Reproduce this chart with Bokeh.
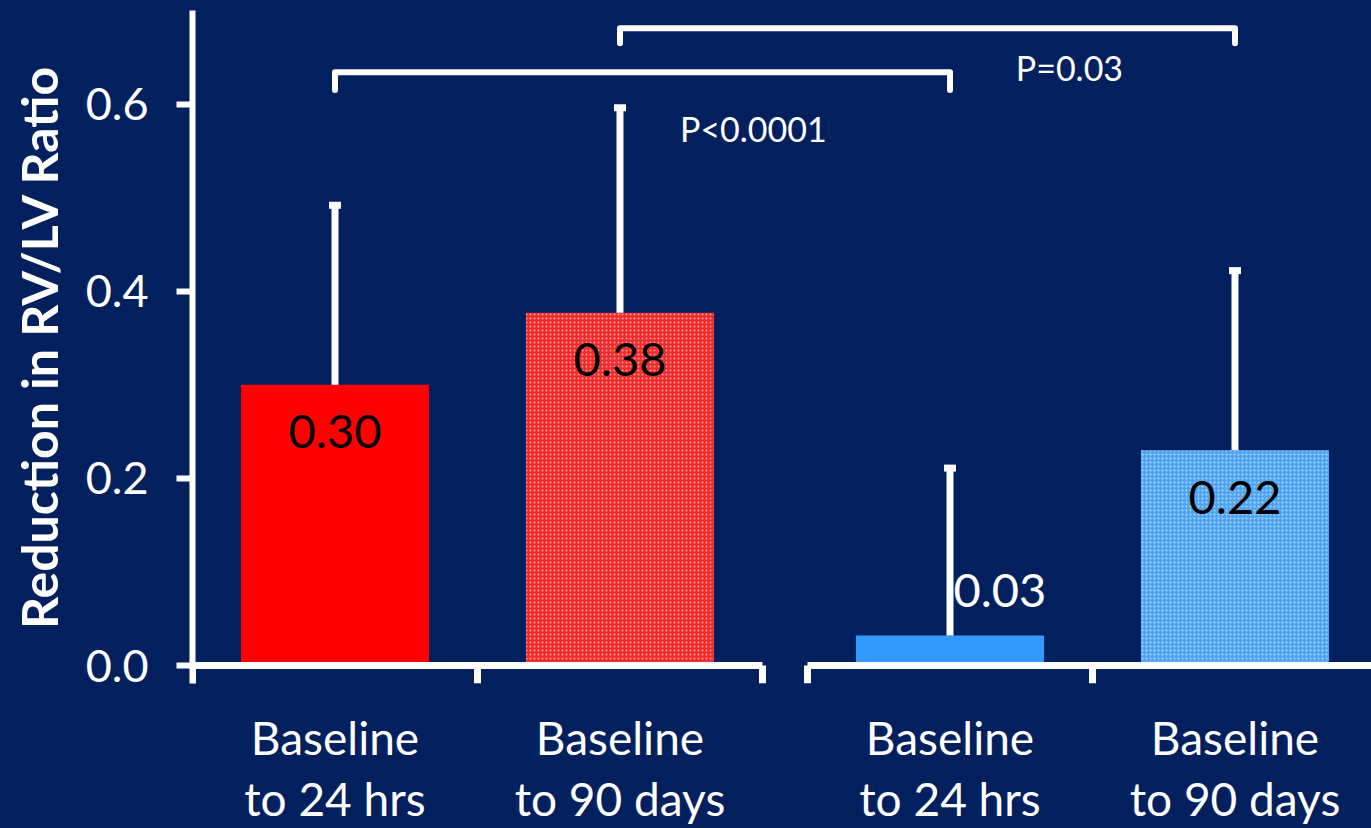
from bokeh.plotting import figure
from bokeh.models import Range1d, FixedTicker, LinearAxis
from bokeh.core.properties import value
from bokeh.embed import file_html
from bokeh.resources import INLINE

# ---- data ----
cat_line1 = ["Baseline", "Baseline", "Baseline", "Baseline"]
cat_line2 = ["to 24 hrs", "to 90 days", "to 24 hrs", "to 90 days"]
groups = [0, 0, 1, 1]
means = [0.300, 0.377, 0.032, 0.230]
upper = [0.492, 0.596, 0.211, 0.422]
value_labels = ["0.30", "0.38", "0.03", "0.22"]
y_ticks = [0.0, 0.2, 0.4, 0.6]
comparisons = [(0, 2, "P<0.0001"), (1, 3, "P=0.03")]

# ---- styling / layout ----
BG = "#03205e"
GAP = 0.158
BAR_W = 0.66
colors = ["#ff0000", "#f22a2a", "#3399ff", "#4fa3f3"]
hatched = [False, True, False, True]
label_inside = [True, True, False, True]
label_colors = ["black", "black", "white", "black"]
bracket_top = [0.634, 0.681]
bracket_drop = [0.019, 0.016]
p_label_pos = [(1.968, 0.574), (3.077, 0.639)]

xs = [i + 0.5 + GAP * g for i, g in enumerate(groups)]

p = figure(width=1371, height=828, output_backend="svg", toolbar_location=None,
           x_range=Range1d(0, 4.137), y_range=Range1d(-0.0192, 0.70),
           min_border_left=192, min_border_right=0, min_border_top=10,
           min_border_bottom=143)
p.background_fill_color = BG
p.border_fill_color = BG
p.styles = {"background-color": BG}
p.outline_line_color = None
p.xgrid.visible = False
p.ygrid.visible = False

# bars
for i in range(4):
    kw = {}
    if hatched[i]:
        kw = dict(hatch_pattern="dot", hatch_color="white", hatch_alpha=0.55,
                  hatch_scale=4, hatch_weight=1)
    p.vbar(x=[xs[i]], top=[means[i]], bottom=0, width=BAR_W,
           fill_color=colors[i], line_color=None, **kw)

# error bars (upper only)
p.segment(x0=xs, y0=means, x1=xs, y1=upper, line_color="white", line_width=7)
p.rect(x=xs, y=upper, width=12, height=7, width_units="screen",
       height_units="screen", fill_color="white", line_color=None)

# broken x axis segments with boundary ticks
y0 = 0.0
for g in (0, 1):
    idx = [i for i in range(4) if groups[i] == g]
    left = xs[idx[0]] - 0.5
    right = xs[idx[-1]] + 0.5
    p.segment(x0=[left], y0=[y0], x1=[right], y1=[y0], line_color="white",
              line_width=7, line_cap="butt")
    bounds = [left] + [xs[i] + 0.5 for i in idx]
    p.segment(x0=bounds, y0=[y0] * len(bounds), x1=bounds,
              y1=[-0.0192] * len(bounds), line_color="white", line_width=7)

# value labels
for i in range(4):
    if label_inside[i]:
        p.text(x=[xs[i]], y=[means[i] - 0.05], text=[value_labels[i]],
               text_align="center", text_baseline="middle",
               text_color=label_colors[i], text_font=value("Lato"),
               text_font_size="47px")
    else:
        p.text(x=[xs[i] + 0.012], y=[means[i] + 0.048], text=[value_labels[i]],
               text_align="left", text_baseline="middle",
               text_color=label_colors[i], text_font=value("Lato"),
               text_font_size="47px")

# comparison brackets
bx, by = [], []
for k, (a, b, _) in enumerate(comparisons):
    t = bracket_top[k]
    d = t - bracket_drop[k]
    bx.append([xs[a], xs[a], xs[b], xs[b]])
    by.append([d, t, t, d])
p.multi_line(xs=bx, ys=by, line_color="white", line_width=6,
             line_join="round", line_cap="round")
for k, (a, b, txt) in enumerate(comparisons):
    px, py = p_label_pos[k]
    p.text(x=[px], y=[py], text=[txt], text_align="center",
           text_baseline="middle", text_color="white",
           text_font=value("Lato"), text_font_size="34px")

# category labels: two stacked bottom axes (no lines/ticks)
def style_cat_axis(ax, labels, standoff):
    ax.ticker = FixedTicker(ticks=xs)
    ax.major_label_overrides = {x: lab for x, lab in zip(xs, labels)}
    ax.axis_line_color = None
    ax.major_tick_line_color = None
    ax.minor_tick_line_color = None
    ax.major_tick_out = 0
    ax.major_tick_in = 0
    ax.major_label_text_color = "white"
    ax.major_label_text_font = "Lato"
    ax.major_label_text_font_size = "46px"
    ax.major_label_standoff = standoff

style_cat_axis(p.xaxis[0], cat_line1, 26)
ax2 = LinearAxis()
style_cat_axis(ax2, cat_line2, 3)
p.add_layout(ax2, "below")

# y axis
ya = p.yaxis[0]
ya.ticker = FixedTicker(ticks=y_ticks)
ya.major_label_overrides = {t: f"{t:.1f}" for t in y_ticks}
ya.axis_line_color = "white"
ya.axis_line_width = 6
ya.major_tick_line_color = "white"
ya.major_tick_line_width = 6
ya.major_tick_out = 16
ya.major_tick_in = 0
ya.minor_tick_line_color = None
ya.major_label_text_color = "white"
ya.major_label_text_font = "Lato"
ya.major_label_text_font_size = "45px"
ya.major_label_standoff = 28
ya.axis_label = "Reduction in RV/LV Ratio"
ya.axis_label_text_color = "white"
ya.axis_label_text_font = "Lato"
ya.axis_label_text_font_style = "bold"
ya.axis_label_text_font_size = "50px"
ya.axis_label_standoff = 14

open("out.html", "w").write(file_html(p, INLINE))
